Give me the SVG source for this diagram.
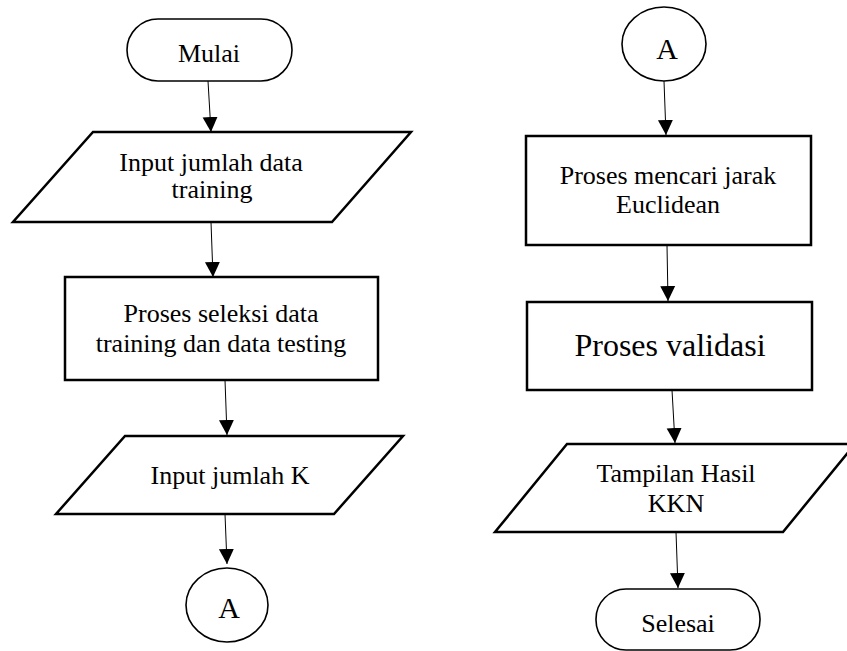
<svg xmlns="http://www.w3.org/2000/svg" width="847" height="651" viewBox="0 0 847 651">
<style>
  .shape { fill: #fff; stroke: #000; stroke-width: 2.5; stroke-linejoin: miter; }
  .term { fill: #fff; stroke: #000; stroke-width: 1.6; }
  .conn { stroke: #000; stroke-width: 1; fill: none; marker-end: url(#arrow); }
  text { font-family: "Liberation Serif", "DejaVu Serif", serif; font-size: 26px; fill: #000; text-anchor: middle; }
  .big { font-size: 32px; }
  .letter { font-size: 30px; }
</style>
<defs>
  <marker id="arrow" markerUnits="userSpaceOnUse" markerWidth="16" markerHeight="16" viewBox="0 0 16 16" refX="15" refY="8" orient="auto">
    <path d="M0,0.5 L15,8 L0,15.5 Z" fill="#000"/>
  </marker>
</defs>
<rect width="847" height="651" fill="#fff"/>
<g id="connectors">
  <line class="conn" x1="208" y1="81" x2="211" y2="132"/>
  <line class="conn" x1="211" y1="222" x2="213" y2="277"/>
  <line class="conn" x1="225" y1="380" x2="227" y2="435"/>
  <line class="conn" x1="225" y1="514" x2="227" y2="564"/>
  <line class="conn" x1="664" y1="81" x2="666" y2="135"/>
  <line class="conn" x1="667" y1="245" x2="668" y2="301"/>
  <line class="conn" x1="672" y1="390" x2="675" y2="443"/>
  <line class="conn" x1="676" y1="532" x2="678" y2="588"/>
</g>
<g id="mulai">
  <rect class="term" x="127" y="19" width="165" height="62" rx="31" ry="31"/>
  <text x="209" y="62">Mulai</text>
</g>
<g id="input-training">
  <polygon class="shape" points="93,132 411,132 332,222 13,222"/>
  <text x="211" y="171">Input jumlah data</text>
  <text x="212" y="198">training</text>
</g>
<g id="seleksi">
  <rect class="shape" x="65" y="277" width="313" height="103"/>
  <text x="221" y="322">Proses seleksi data</text>
  <text x="221" y="352">training dan data testing</text>
</g>
<g id="input-k">
  <polygon class="shape" points="125,436 403,436 334,514 56,514"/>
  <text x="230" y="484">Input jumlah K</text>
</g>
<g id="conn-a-out">
  <ellipse class="term" cx="227" cy="605" rx="41" ry="37"/>
  <text class="letter" x="229" y="618">A</text>
</g>
<g id="conn-a-in">
  <ellipse class="term" cx="664" cy="44" rx="42" ry="37"/>
  <text class="letter" x="667" y="59">A</text>
</g>
<g id="euclidean">
  <rect class="shape" x="526" y="136" width="285" height="109"/>
  <text x="668" y="184">Proses mencari jarak</text>
  <text x="668" y="213">Euclidean</text>
</g>
<g id="validasi">
  <rect class="shape" x="527" y="302" width="285" height="88"/>
  <text class="big" x="670" y="356">Proses validasi</text>
</g>
<g id="tampilan">
  <polygon class="shape" points="567,444 855,444 783,532 495,532"/>
  <text x="676" y="482">Tampilan Hasil</text>
  <text x="676" y="512">KKN</text>
</g>
<g id="selesai">
  <rect class="term" x="596" y="589" width="164" height="61" rx="30" ry="30"/>
  <text x="678" y="632">Selesai</text>
</g>
</svg>
